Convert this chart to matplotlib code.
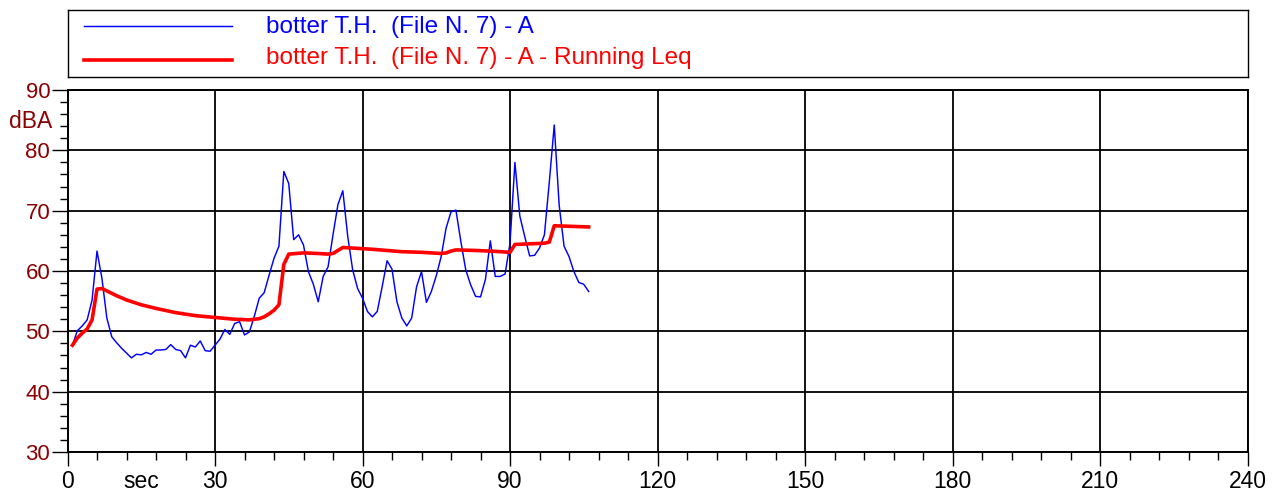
import numpy as np
import matplotlib.pyplot as plt
from matplotlib.ticker import MultipleLocator
from matplotlib.transforms import blended_transform_factory

plt.rcParams['font.family'] = ['Liberation Sans', 'DejaVu Sans']

# A-weighted time history, 1 s steps
t_sec = np.arange(1, 107)
level_a = [47.7, 50.1, 50.9, 51.9, 55.2, 63.3, 58.8, 52.2, 49.1, 48.1,
           47.2, 46.4, 45.6, 46.2, 46.1, 46.5, 46.2, 46.9, 46.9, 47.0,
           47.8, 47.0, 46.8, 45.6, 47.7, 47.4, 48.4, 46.8, 46.7, 47.7,
           48.7, 50.3, 49.5, 51.3, 51.6, 49.4, 49.9, 52.5, 55.5, 56.4,
           59.3, 62.1, 64.1, 76.5, 74.5, 65.2, 66.0, 64.3, 59.9, 57.8,
           54.9, 59.1, 60.7, 66.0, 71.0, 73.3, 65.7, 60.2, 57.1, 55.5,
           53.3, 52.4, 53.3, 57.4, 61.7, 60.3, 54.9, 52.2, 50.9, 52.2,
           57.4, 59.9, 54.8, 56.6, 59.2, 62.4, 67.1, 69.8, 70.1, 64.9,
           60.2, 57.7, 55.8, 55.7, 58.6, 65.0, 59.1, 59.1, 59.5, 64.6,
           78.0, 69.1, 65.7, 62.5, 62.6, 63.8, 66.0, 74.8, 84.2, 70.9,
           64.1, 62.4, 59.9, 58.1, 57.8, 56.6]

# running Leq read at its corners
leq_t = [1, 2, 3, 4, 5, 6, 7, 8, 10, 12, 15, 18, 22, 26, 30, 34, 37, 39,
         40, 41, 42, 43, 44, 45, 48, 51, 53, 54, 55, 56, 60, 62, 68, 72,
         76, 77, 78, 79, 83, 86, 90, 91, 97, 98, 99, 106]
leq_a = [47.7, 48.9, 49.7, 50.4, 51.9, 57.0, 57.1, 56.7, 55.9, 55.2,
         54.4, 53.8, 53.1, 52.6, 52.3, 52.0, 51.9, 52.1, 52.4, 52.9,
         53.5, 54.4, 61.1, 62.8, 63.0, 62.9, 62.8, 62.9, 63.4, 63.9,
         63.7, 63.6, 63.2, 63.1, 62.9, 63.0, 63.3, 63.5, 63.4, 63.3,
         63.1, 64.4, 64.6, 64.8, 67.5, 67.3]

label_a = 'botter T.H.  (File N. 7) - A'
label_leq = 'botter T.H.  (File N. 7) - A - Running Leq'
x_ticks = np.arange(0, 241, 30)
y_ticks = np.arange(30, 91, 10)

W, H = 1272, 493
blue = '#0000ff'
red = '#ff0000'
dark_red = '#8b0000'

fig = plt.figure(figsize=(W / 100, H / 100), dpi=100)
ax = fig.add_axes([67.5 / W, 1 - 452 / H, 1180 / W, 362 / H])
ax.set_axisbelow(True)
ax.plot(t_sec, level_a, color=blue, lw=1.05)
ax.plot(leq_t, leq_a, color=red, lw=2.6)

ax.set_xlim(0, 240)
ax.set_ylim(30, 90)
ax.set_xticks(x_ticks)
ax.set_yticks(y_ticks)
ax.xaxis.set_minor_locator(MultipleLocator(6))
ax.yaxis.set_minor_locator(MultipleLocator(2))
ax.grid(True, which='major', color='black', lw=1.3)
for s in ax.spines.values():
    s.set_linewidth(1.4)

ax.tick_params(axis='both', which='major', direction='out', color='black',
               width=1.0)
ax.tick_params(axis='x', which='major', length=10, pad=3, labelsize=16.5)
ax.tick_params(axis='x', which='minor', length=5.5, width=1.0)
ax.tick_params(axis='y', which='major', length=11.5, pad=1, labelsize=16,
               labelcolor=dark_red)
ax.tick_params(axis='y', which='minor', length=5.8, width=1.0)

trans_y = blended_transform_factory(ax.transAxes, ax.transData)
ax.text(-0.013, 84.7, 'dBA', transform=trans_y, ha='right', va='center',
        fontsize=16.5, color=dark_red)
trans_x = blended_transform_factory(ax.transData, ax.transAxes)
ax.text(14.95, -0.0994, 'sec', transform=trans_x, ha='center', va='baseline',
        fontsize=16.5)

# legend box on top
lax = fig.add_axes([67.5 / W, 1 - 77 / H, 1180 / W, 67 / H])
lax.set_xlim(0, 1180)
lax.set_ylim(0, 67)
lax.set_xticks([])
lax.set_yticks([])
for s in lax.spines.values():
    s.set_linewidth(1.0)
lax.plot([16.5, 164.5], [51, 51], color=blue, lw=1.05)
lax.plot([16.5, 164.5], [17, 17], color=red, lw=2.6)
lax.text(198, 44.3, label_a, color=blue, fontsize=17.5, va='baseline')
lax.text(198, 12.7, label_leq, color=red, fontsize=17.5, va='baseline')

fig.savefig('out.png', dpi=100)
